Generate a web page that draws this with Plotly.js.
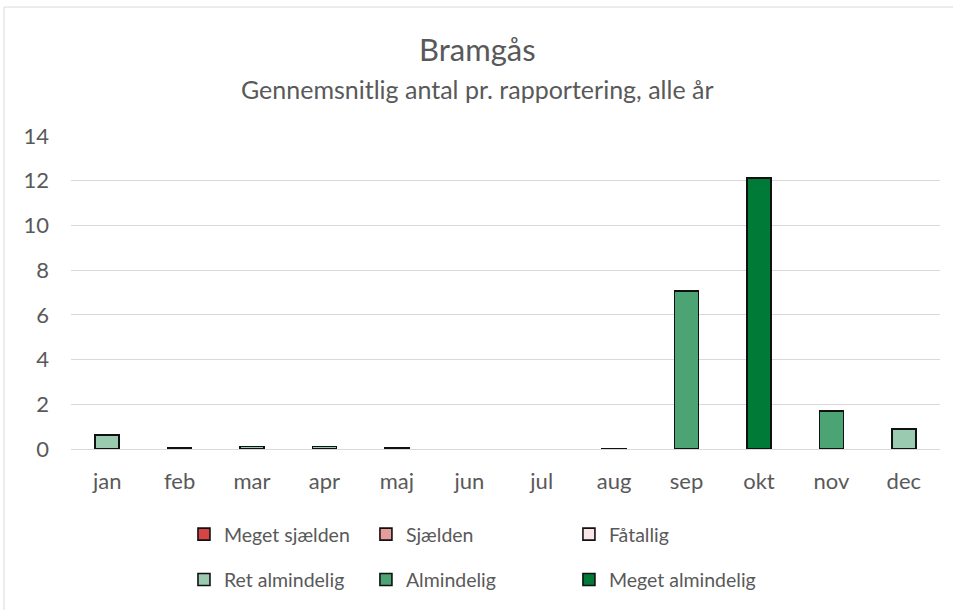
<!DOCTYPE html>
<html>
<head>
<meta charset="utf-8">
<script src="https://cdn.plot.ly/plotly-3.0.1.min.js"></script>
<style>
html,body{margin:0;padding:0;background:#fff;}
#chart{width:953px;height:610px;}
</style>
</head>
<body>
<div id="chart"></div>
<script>
const months = ["jan","feb","mar","apr","maj","jun","jul","aug","sep","okt","nov","dec"];
const seriesNames = ["Meget sjælden","Sjælden","Fåtallig","Ret almindelig","Almindelig","Meget almindelig"];
const megetSjaelden = [null,null,null,null,null,null,null,null,null,null,null,null];
const sjaelden      = [null,null,null,null,null,null,null,null,null,null,null,null];
const faatallig     = [null,null,null,null,0.05,null,null,0.03,null,null,null,null];
const retAlmindelig = [0.63,0.06,0.12,0.12,null,null,null,null,null,null,null,0.89];
const almindelig    = [null,null,null,null,null,null,null,null,7.08,null,1.70,null];
const megetAlmindelig = [null,null,null,null,null,null,null,null,null,12.12,null,null];
const yTicks = [0,2,4,6,8,10,12,14];

const values = [megetSjaelden, sjaelden, faatallig, retAlmindelig, almindelig, megetAlmindelig];
const colors = ["#D64545","#E89B9B","#FAE6E6","#9ACBB1","#4CA373","#007A37"];
const legendIds = ["legend","legend2","legend3","legend","legend2","legend3"];

const font = 'Lato, "Open Sans", sans-serif';
const traces = seriesNames.map((n,i)=>({
  type:"bar", name:n, x:months, y:values[i],
  marker:{color:colors[i], line:{color:"#111", width:1.6}},
  legend: legendIds[i], legendgroup:"g"+i,
  hoverinfo:"x+y+name"
}));

const legendCommon = {
  orientation:"v", xanchor:"left", yanchor:"middle", y:-0.3450,
  font:{family:font, size:19.5, color:"#595959"},
  itemwidth:30, tracegroupgap:17,
  bgcolor:"rgba(0,0,0,0)", traceorder:"grouped"
};

const layout = {
  width:953, height:610,
  margin:{l:71, r:13, t:136, b:161, autoexpand:false},
  paper_bgcolor:"#fff", plot_bgcolor:"#fff",
  barmode:"stack", bargap:0.67,
  font:{family:font, color:"#595959"},
  xaxis:{type:"category", showgrid:false, showline:true, linecolor:"#d9d9d9", linewidth:1,
         tickfont:{family:font, size:22, color:"#595959"}, ticks:"", ticklabelstandoff:13, fixedrange:true,
         automargin:false},
  yaxis:{range:[0,14], tickvals:yTicks, showgrid:true, gridcolor:"#d9d9d9", gridwidth:1,
         zeroline:false, showline:false, tickfont:{family:font, size:22, color:"#595959"},
         ticks:"", ticklabelstandoff:21, fixedrange:true, automargin:false},
  legend:Object.assign({}, legendCommon, {x:0.130}),
  legend2:Object.assign({}, legendCommon, {x:0.3394}),
  legend3:Object.assign({}, legendCommon, {x:0.573}),
  annotations:[
    {text:"Bramgås", xref:"paper", yref:"paper", x:0.468, y:1.277, xanchor:"center", yanchor:"middle",
     showarrow:false, font:{family:font, size:31, color:"#595959"}},
    {text:"Gennemsnitlig antal pr. rapportering, alle år", xref:"paper", yref:"paper", x:0.468, y:1.15,
     xanchor:"center", yanchor:"middle", showarrow:false, font:{family:font, size:25, color:"#595959"}}
  ],
  shapes:[
    {type:"rect", xref:"paper", yref:"paper", x0:-0.0771, x1:1.03, y0:-0.53, y1:1.412,
     line:{color:"#d9d9d9", width:1}, fillcolor:"rgba(0,0,0,0)", layer:"below"}
  ],
  showlegend:true
};

Plotly.newPlot("chart", traces, layout, {displayModeBar:false, staticPlot:true});
</script>
</body>
</html>
